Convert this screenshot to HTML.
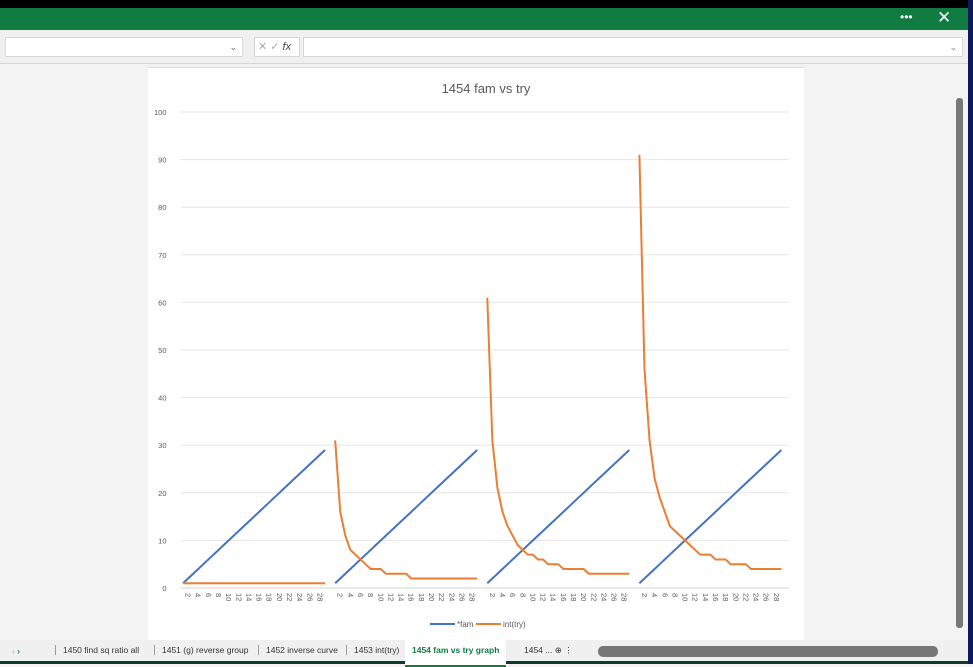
<!DOCTYPE html>
<html><head><meta charset="utf-8"><style>
body{margin:0;width:973px;height:664px;overflow:hidden;background:#f3f3f3;font-family:"Liberation Sans",sans-serif;position:relative}
div{position:absolute;box-sizing:border-box}
</style></head><body>
<div style="left:0;top:0;width:973px;height:8px;background:#000"></div>
<div style="left:0;top:8px;width:968px;height:22px;background:#107c41;color:#fff">
 <span style="position:absolute;left:900px;top:2px;font-size:12px">•••</span>
 <span style="position:absolute;left:937px;top:0px;font-size:17px">✕</span></div>
<div style="left:0;top:30px;width:968px;height:34px;background:#f0f0f0;border-bottom:1px solid #d6d6d6"></div>
<div style="left:5px;top:37px;width:238px;height:20px;background:#fff;border:1px solid #d6d6d6;font-size:9px;color:#666;text-align:right;padding-right:5px;line-height:18px">⌄</div>
<div style="left:254px;top:37px;width:46px;height:20px;background:#fff;border:1px solid #d6d6d6;font-size:11px;color:#aaa;line-height:18px;padding-left:3px">✕ ✓ <i style="color:#444">fx</i></div>
<div style="left:303px;top:37px;width:660px;height:20px;background:#fff;border:1px solid #d6d6d6;font-size:9px;color:#888;text-align:right;padding-right:5px;line-height:18px">⌄</div>
<div style="left:968px;top:0;width:5px;height:664px;background:#0a1a5a"></div>
<div style="left:954px;top:64px;width:14px;height:576px;background:#f3f3f3">
 <div style="left:2px;top:34px;width:7px;height:530px;background:#777;border-radius:3px"></div></div>
<div style="left:148px;top:67px;width:656px;height:573px;background:#fff;border-top:1px solid #ddd">
<svg id="chart" width="656" height="573" style="position:absolute;left:0;top:0"></svg></div>
<div style="left:0;top:640px;width:968px;height:24px;background:#f0f0f0;border-bottom:3px solid #0e3b2e;font-size:8.5px;color:#333">
 <span style="position:absolute;left:12px;top:6px;color:#aaa">‹ <b style="color:#107c41">›</b></span>
 <span style="position:absolute;left:55px;top:5px;border-left:1px solid #999;padding-left:7px">1450 find sq ratio all</span>
 <span style="position:absolute;left:154px;top:5px;border-left:1px solid #999;padding-left:7px">1451 (g) reverse group</span>
 <span style="position:absolute;left:258px;top:5px;border-left:1px solid #999;padding-left:7px">1452 inverse curve</span>
 <span style="position:absolute;left:346px;top:5px;border-left:1px solid #999;padding-left:7px">1453 int(try)</span>
 <span style="position:absolute;left:405px;top:0;height:20px;background:#fff;border-bottom:2px solid #107c41;padding:5px 7px 0;color:#107c41;font-weight:bold">1454 fam vs try graph</span>
 <span style="position:absolute;left:516px;top:5px;padding-left:8px">1454 ... ⊕ ⋮</span>
 <div style="left:598px;top:6px;width:340px;height:11px;background:#777;border-radius:5px"></div></div>
<script>
const groupCount = 4;
const xValues = [1,2,3,4,5,6,7,8,9,10,11,12,13,14,15,16,17,18,19,20,21,22,23,24,25,26,27,28,29];
const famValues = [1,2,3,4,5,6,7,8,9,10,11,12,13,14,15,16,17,18,19,20,21,22,23,24,25,26,27,28,29];
const tryG1 = [1,1,1,1,1,1,1,1,1,1,1,1,1,1,1,1,1,1,1,1,1,1,1,1,1,1,1,1,1];
const tryG2 = [31,16,11,8,7,6,5,4,4,4,3,3,3,3,3,2,2,2,2,2,2,2,2,2,2,2,2,2,2];
const tryG3 = [61,31,21,16,13,11,9,8,7,7,6,6,5,5,5,4,4,4,4,4,3,3,3,3,3,3,3,3,3];
const tryG4 = [91,46,31,23,19,16,13,12,11,10,9,8,7,7,7,6,6,6,5,5,5,5,4,4,4,4,4,4,4];
const yTicks = [0,10,20,30,40,50,60,70,80,90,100];
const tryGroups = [tryG1,tryG2,tryG3,tryG4];
const NS='http://www.w3.org/2000/svg', svg=document.getElementById('chart');
const L=32.5, R=641, T=44, B=520, perGroup=30, nCat=perGroup*groupCount;
const cw=(R-L)/nCat;
const xs=(g,i)=>L+(g*perGroup+i+0.5)*cw;
const ys=v=>B-(v/100)*(B-T);
function el(t,a,txt){const e=document.createElementNS(NS,t);for(const k in a)e.setAttribute(k,a[k]);if(txt!==undefined)e.textContent=txt;svg.appendChild(e);return e;}
const title=el('text',{x:338,y:25,'text-anchor':'middle','font-size':13,fill:'#595959'},'1454  fam vs try');


yTicks.forEach(t=>{
 const g=el('line',{x1:L,x2:R,y1:ys(t),y2:ys(t),stroke:t===0?'#d0d0d0':'#e6e6e6','stroke-width':1});
 
 
 const lb=el('text',{x:L-14,y:ys(t)+3,'text-anchor':'end','font-size':7.5,fill:'#595959'},t);
 
 
});
for(let g=0;g<groupCount;g++){
 xValues.forEach((v,i)=>{ if(v%2===0){
  const x=xs(g,i);
  const lb=el('text',{x:0,y:0,'font-size':7.5,fill:'#595959',transform:`translate(${x-2.5},${B+5}) rotate(90)`},v);
  
  
 }});
 const fp=famValues.map((v,i)=>xs(g,i)+','+ys(v)).join(' ');
 const fl=el('polyline',{points:fp,fill:'none',stroke:'#4472c4','stroke-width':2});
 
 
 const tp=tryGroups[g].map((v,i)=>xs(g,i)+','+ys(v)).join(' ');
 const tl=el('polyline',{points:tp,fill:'none',stroke:'#ed7d31','stroke-width':2});
 
 
}
const l1=el('line',{x1:282,x2:307,y1:556,y2:556,stroke:'#4472c4','stroke-width':2});


const t1=el('text',{x:309,y:559,'font-size':8,fill:'#595959'},'*fam');


const l2=el('line',{x1:328,x2:353,y1:556,y2:556,stroke:'#ed7d31','stroke-width':2});


const t2=el('text',{x:355,y:559,'font-size':8,fill:'#595959'},'int(try)');


</script>
</body></html>
